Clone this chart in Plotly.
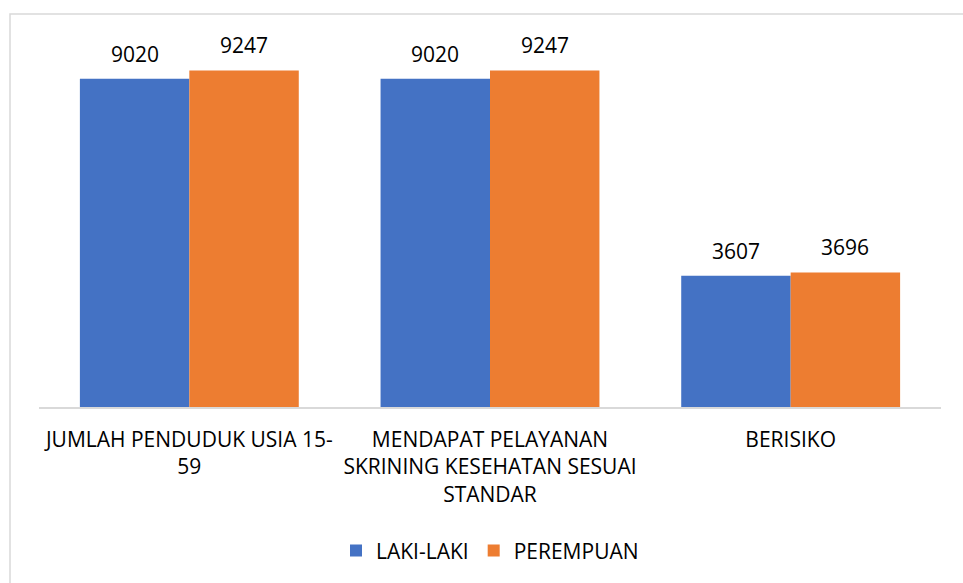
import plotly.graph_objects as go

categories = ["JUMLAH PENDUDUK USIA 15-<br>59",
              "MENDAPAT PELAYANAN<br>SKRINING KESEHATAN SESUAI<br>STANDAR",
              "BERISIKO"]
laki = [9020, 9020, 3607]
perempuan = [9247, 9247, 3696]
series_names = ["LAKI-LAKI", "PEREMPUAN"]
colors = ["#4472C4", "#ED7D31"]

FONT = "Open Sans, sans-serif"
bargap = 0.272

fig = go.Figure()
x_idx = list(range(len(categories)))
for name, vals, col in zip(series_names, [laki, perempuan], colors):
    fig.add_trace(go.Bar(x=x_idx, y=vals, name=name, marker=dict(color=col, line=dict(width=0))))

half = (1 - bargap) / 2
for k, vals in enumerate([laki, perempuan]):
    off = -half / 2 if k == 0 else half / 2
    for i, v in enumerate(vals):
        fig.add_annotation(x=i + off, y=v, xref="x", yref="y", text=str(v),
                           showarrow=False, yanchor="bottom", yshift=9,
                           font=dict(family=FONT, size=21, color="#000000"))

fig.add_shape(type="rect", xref="paper", yref="paper",
              x0=(10 - 39) / 902, x1=2, y0=-2, y1=1 + 29 / 364,
              line=dict(color="#d9d9d9", width=1.5), fillcolor="rgba(0,0,0,0)", layer="below")

fig.update_layout(
    width=963, height=583,
    margin=dict(l=39, r=22, t=43, b=176),
    paper_bgcolor="white", plot_bgcolor="white",
    barmode="group", bargap=bargap, bargroupgap=0,
    font=dict(family=FONT, size=21, color="#000000"),
    showlegend=True,
    legend=dict(orientation="h", x=0.5, xanchor="center", y=-0.395, yanchor="middle",
                font=dict(family=FONT, size=21, color="#000000"), itemwidth=30,
                tracegroupgap=0),
    xaxis=dict(tickmode="array", tickvals=x_idx, ticktext=categories,
               showline=True, linecolor="#d9d9d9", linewidth=1.5,
               showgrid=False, zeroline=False, ticks="", tickfont=dict(size=21),
               ticklabelstandoff=13,
               range=[-0.5, len(categories) - 0.5]),
    yaxis=dict(range=[0, 10000], visible=False, showgrid=False, zeroline=False),
)

fig.write_html("out.html", config={"displayModeBar": False},
               post_script="document.body.style.margin='0';")
